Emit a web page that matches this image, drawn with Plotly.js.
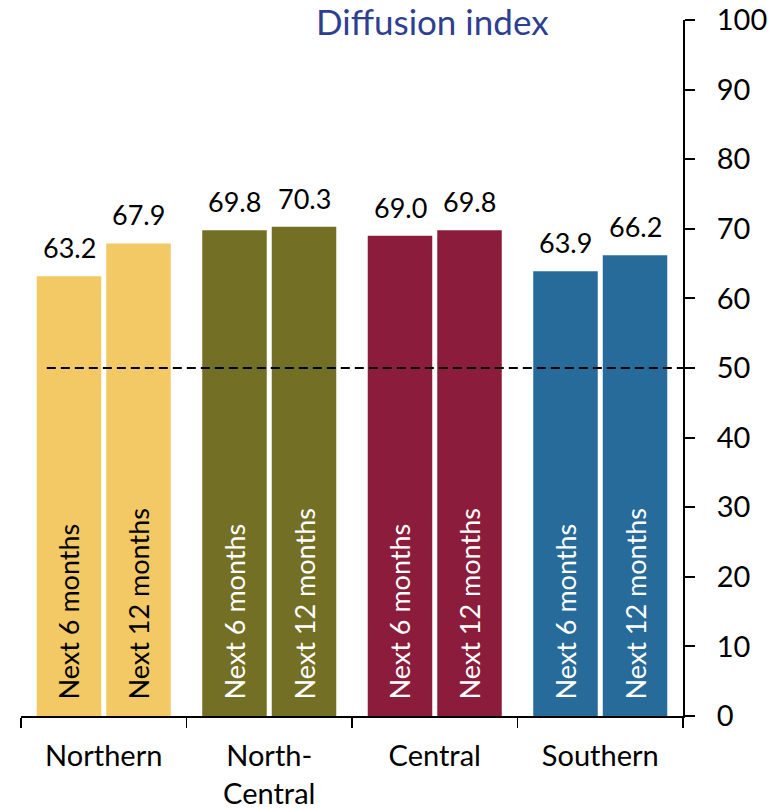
<!DOCTYPE html>
<html>
<head>
<meta charset="utf-8">
<script src="https://cdn.plot.ly/plotly-3.0.1.min.js"></script>
<style>html,body{margin:0;padding:0;background:#fff;}#chart{width:781px;height:809px;}</style>
</head>
<body>
<div id="chart"></div>
<script>
const categories = ['Northern', 'North-<br>Central', 'Central', 'Southern'];
const next6 = [63.2, 69.8, 69.0, 63.9];
const next12 = [67.9, 70.3, 69.8, 66.2];
const seriesNames = ['Next 6 months', 'Next 12 months'];
const regionColors = ['#F2C964', '#736F25', '#8C1C3B', '#276B9A'];
const insideTextColors = ['#000000', '#ffffff', '#ffffff', '#ffffff'];
const yTicks = [0, 10, 20, 30, 40, 50, 60, 70, 80, 90, 100];
const referenceLevel = 50;
const titleText = 'Diffusion index';

const FONT = 'Lato, "Open Sans", sans-serif';
const series = [next6, next12];

const traces = series.map((vals, i) => ({
  type: 'bar',
  name: seriesNames[i],
  x: categories,
  y: vals,
  marker: { color: regionColors, line: { width: 0 } },
  text: categories.map(() => '\u2002' + seriesNames[i]),
  texttemplate: '%{text}',
  textposition: 'inside',
  insidetextanchor: 'start',
  textangle: -90,
  insidetextfont: { family: FONT, size: 27, color: insideTextColors },
  constraintext: 'none',
  hoverinfo: 'skip'
}));

const slotShift = 34.75;
const valueAnnotations = [];
series.forEach((vals, i) => {
  vals.forEach((v, j) => {
    valueAnnotations.push({
      x: categories[j], y: v, xref: 'x', yref: 'y',
      text: v.toFixed(1), showarrow: false,
      xshift: (i === 0 ? -1 : 1) * slotShift, yshift: 10,
      yanchor: 'bottom', xanchor: 'center',
      font: { family: FONT, size: 27, color: '#000' }
    });
  });
});

const layout = {
  width: 781, height: 809,
  margin: { l: 21, r: 98, t: 20, b: 93 },
  paper_bgcolor: '#fff', plot_bgcolor: '#fff',
  showlegend: false,
  barmode: 'group',
  bargap: 0.16,
  bargroupgap: 0.072,
  font: { family: FONT, color: '#000' },
  xaxis: {
    type: 'category',
    showline: true, linecolor: '#000', linewidth: 1.5,
    ticks: 'outside', tickson: 'boundaries', ticklen: 10, tickcolor: '#000', tickwidth: 1.5,
    tickfont: { family: FONT, size: 29, color: '#000' },
    ticklabelstandoff: 14,
    showgrid: false, zeroline: false, fixedrange: true
  },
  yaxis: {
    side: 'right', range: [0, 100],
    tickmode: 'array', tickvals: yTicks, ticktext: yTicks.map(String),
    showline: true, linecolor: '#000', linewidth: 2,
    ticks: 'outside', ticklen: 10, tickcolor: '#000', tickwidth: 2,
    tickfont: { family: FONT, size: 29, color: '#000' },
    ticklabelstandoff: 16,
    showgrid: false, zeroline: false, fixedrange: true
  },
  shapes: [{
    type: 'line', xref: 'paper', yref: 'y',
    x0: 0.039, x1: 1, y0: referenceLevel, y1: referenceLevel,
    line: { color: '#000', width: 2, dash: '9px,5px' },
    layer: 'above'
  }],
  annotations: valueAnnotations.concat([{
    xref: 'paper', yref: 'paper', x: 0.622, y: 1.0, yshift: -1,
    xanchor: 'center', yanchor: 'middle',
    text: titleText, showarrow: false,
    font: { family: FONT, size: 35, color: '#2E3F91' }
  }])
};

Plotly.newPlot('chart', traces, layout, { displayModeBar: false, staticPlot: true });
</script>
</body>
</html>
